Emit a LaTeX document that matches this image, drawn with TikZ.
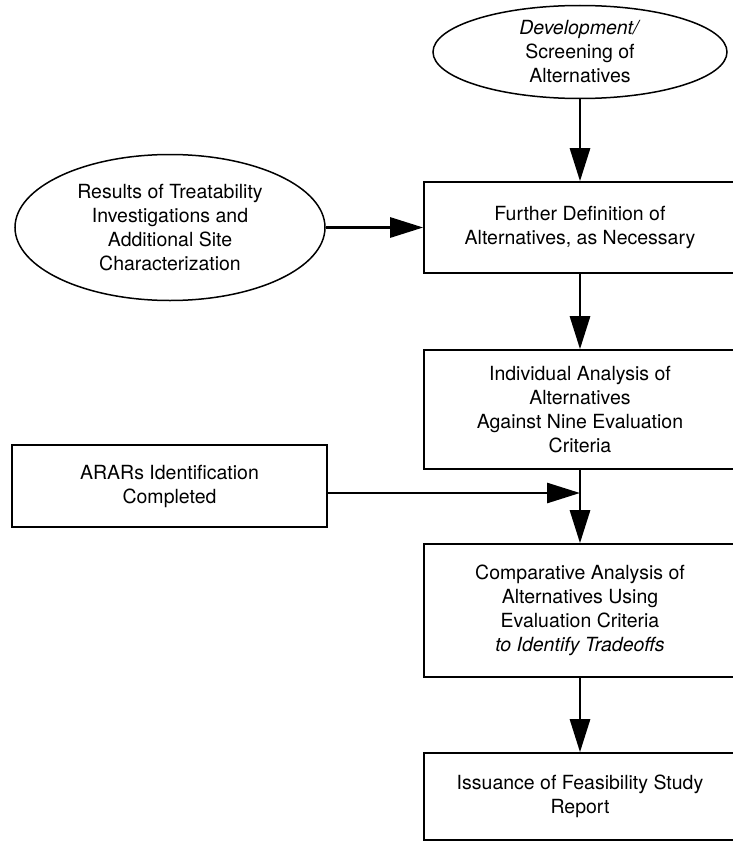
\documentclass[tikz,border=0pt]{standalone}
\usepackage{fontspec}
\setmainfont{TeX Gyre Heros}
\usepackage{tikz}
\usetikzlibrary{shapes.geometric,arrows.meta}
\tikzset{
    flow-text/.style = {align=center, font=\fontsize{19.5}{24}\selectfont},
    flow-box/.style = {flow-text, draw=black, line width=1.6pt, rectangle, inner sep=0pt},
    flow-ellipse/.style = {flow-text, draw=black, line width=1.5pt, ellipse, inner sep=0pt},
    flow-arrow/.style = {line width=2.8pt, -{Triangle[length=33pt,width=20pt]}},
}

\begin{document}
\begin{tikzpicture}[x=1pt,y=-1pt]
\useasboundingbox (0,0) rectangle (733,843);
% right column
\node[flow-ellipse, minimum width=294pt, minimum height=93pt] (dev) at (580,52) {\textit{Development/}\\Screening of\\Alternatives};
\node[flow-box, minimum width=312pt, minimum height=91pt] (further) at (580,227.5) {Further Definition of\\Alternatives, as Necessary};
\node[flow-box, minimum width=312pt, minimum height=119pt] (individual) at (580,409.5) {Individual Analysis of\\Alternatives\\Against Nine Evaluation\\Criteria};
\node[flow-box, minimum width=312pt, minimum height=133pt] (comparative) at (580,610.5) {Comparative Analysis of\\Alternatives Using\\Evaluation Criteria\\\textit{to Identify Tradeoffs}};
\node[flow-box, minimum width=312pt, minimum height=87pt] (issuance) at (580,796.5) {Issuance of Feasibility Study\\Report};
% left column
\node[flow-ellipse, minimum width=310pt, minimum height=146pt] (results) at (170,227.5) {Results of Treatability\\Investigations and\\Additional Site\\Characterization};
\node[flow-box, minimum width=315pt, minimum height=82pt] (arars) at (169.5,486) {ARARs Identification\\Completed};
\coordinate (join) at (580,493);

\draw[flow-arrow] (dev) -- (further);
\draw[flow-arrow] (results) -- (further);
\draw[flow-arrow] (further) -- (individual);
\draw[flow-arrow] (arars.east |- join) -- (join);
\draw[flow-arrow] (individual) -- (comparative);
\draw[flow-arrow] (comparative) -- (issuance);
\end{tikzpicture}
\end{document}
